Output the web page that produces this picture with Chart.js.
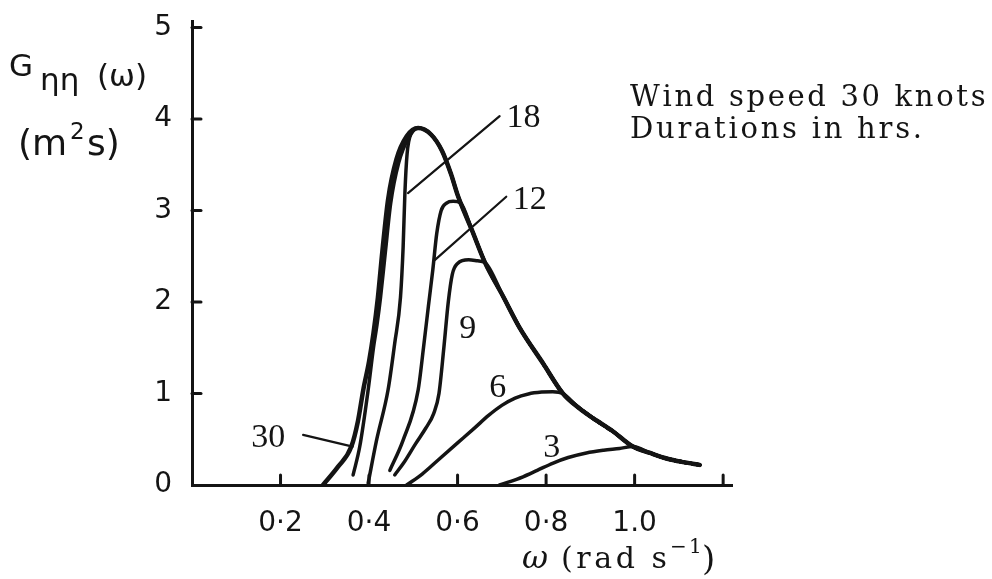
<!DOCTYPE html>
<html lang="en">
<head>
    <title>Wave spectra - wind speed 30 knots</title>
    <script src="https://cdn.jsdelivr.net/npm/chart.js"></script>
    <style>
        html, body { margin: 0; padding: 0; background: #fff; }
        #spectra { display: block; }
    </style>
</head>
<body>
    <canvas id="spectra" width="992" height="579"></canvas>

    <script>
        // axes
        const xTicks = [0, 0.2, 0.4, 0.6, 0.8, 1.0, 1.2];
        const xTickLabels = ['', '0·2', '0·4', '0·6', '0·8', '1.0', ''];
        const yTicks = [0, 1, 2, 3, 4, 5];
        const yTickLabels = ['0', '1', '2', '3', '4', '5'];

        // common high frequency side of the spectra (omega, G)
        const envW = [0.511, 0.540, 0.565, 0.585, 0.600, 0.607, 0.632, 0.662, 0.703, 0.740, 0.793, 0.838, 0.872, 0.906, 0.950, 0.996, 1.035, 1.072, 1.110, 1.147];
        const envG = [3.90, 3.83, 3.65, 3.40, 3.17, 3.08, 2.79, 2.43, 2.06, 1.72, 1.33, 1.00, 0.85, 0.73, 0.59, 0.42, 0.35, 0.29, 0.25, 0.22];

        // low frequency side of each duration curve (hrs)
        const w30 = [0.296, 0.330, 0.360, 0.375, 0.387, 0.400, 0.410, 0.420, 0.430, 0.443, 0.462, 0.485];
        const g30 = [0.00, 0.20, 0.42, 0.70, 1.04, 1.35, 1.66, 2.05, 2.55, 3.12, 3.56, 3.81];
        // unlabelled curve drawn next to the 30 hr one
        const wX = [0.364, 0.379, 0.398, 0.410, 0.418, 0.426, 0.437, 0.449, 0.467, 0.489];
        const gX = [0.11, 0.42, 1.04, 1.50, 1.75, 2.05, 2.55, 3.08, 3.52, 3.79];
        const w18 = [0.398, 0.417, 0.443, 0.458, 0.471, 0.477, 0.481, 0.486, 0.495];
        const g18 = [0.02, 0.49, 1.04, 1.55, 2.05, 2.60, 3.19, 3.62, 3.84];
        const w12 = [0.447, 0.477, 0.511, 0.523, 0.534, 0.544, 0.553, 0.563, 0.575, 0.590];
        const g12 = [0.16, 0.49, 1.04, 1.50, 1.95, 2.35, 2.75, 3.00, 3.08, 3.10];
        const w9 = [0.458, 0.478, 0.505, 0.528, 0.546, 0.558, 0.569, 0.579, 0.588, 0.600, 0.625, 0.645];
        const g9 = [0.11, 0.24, 0.45, 0.62, 0.78, 1.00, 1.50, 2.00, 2.30, 2.42, 2.46, 2.45];
        const w6 = [0.485, 0.520, 0.560, 0.600, 0.640, 0.670, 0.700, 0.730, 0.760, 0.790, 0.815];
        const g6 = [0.00, 0.12, 0.29, 0.46, 0.63, 0.76, 0.87, 0.95, 0.995, 1.015, 1.02];
        const w3 = [0.695, 0.748, 0.780, 0.816, 0.850, 0.891, 0.930, 0.966];
        const g3 = [0.00, 0.09, 0.16, 0.24, 0.30, 0.35, 0.38, 0.40];

        // curve labels and their leader lines
        const curveLabels = ['30', '18', '12', '9', '6', '3'];
        const labelW = [0.172, 0.749, 0.763, 0.623, 0.691, 0.813];
        const labelG = [0.42, 3.91, 3.02, 1.61, 0.96, 0.31];
        const leaderFromW = [0.251, 0.488, 0.549];
        const leaderFromG = [0.547, 3.19, 2.46];
        const leaderToW = [0.363, 0.695, 0.710];
        const leaderToG = [0.420, 4.03, 3.15];

        const ink = '#141414';

        function curve(w, g, joinAt) {
            const pts = w.map((v, i) => ({ x: v, y: g[i] }));
            envW.forEach((v, i) => {
                if (v >= joinAt) pts.push({ x: v, y: envG[i] });
            });
            return pts;
        }

        function series(label, data, width) {
            return {
                label: label,
                data: data,
                showLine: true,
                borderColor: ink,
                borderWidth: width,
                pointRadius: 0,
                cubicInterpolationMode: 'monotone',
                borderCapStyle: 'round',
                borderJoinStyle: 'round'
            };
        }

        // text drawn letter by letter so it fills a given width
        function spacedText(ctx, text, x, y, width) {
            const plain = ctx.measureText(text).width;
            const gap = text.length > 1 ? (width - plain) / (text.length - 1) : 0;
            for (const ch of text) {
                ctx.fillText(ch, x, y);
                x += ctx.measureText(ch).width + gap;
            }
        }

        const annotate = {
            id: 'annotate',
            afterDraw(chart) {
                const { ctx, chartArea: a, scales: { x, y } } = chart;
                ctx.save();
                ctx.strokeStyle = ink;
                ctx.fillStyle = ink;
                ctx.lineCap = 'round';

                // tick marks point into the plot
                ctx.lineWidth = 3;
                xTicks.slice(1).forEach(v => {
                    const px = x.getPixelForValue(v);
                    ctx.beginPath();
                    ctx.moveTo(px, a.bottom);
                    ctx.lineTo(px, a.bottom - 10);
                    ctx.stroke();
                });
                yTicks.slice(1).forEach(v => {
                    const py = y.getPixelForValue(v);
                    ctx.beginPath();
                    ctx.moveTo(a.left, py);
                    ctx.lineTo(a.left + 9, py);
                    ctx.stroke();
                });

                // leader lines
                ctx.lineWidth = 2.2;
                leaderFromW.forEach((v, i) => {
                    ctx.beginPath();
                    ctx.moveTo(x.getPixelForValue(v), y.getPixelForValue(leaderFromG[i]));
                    ctx.lineTo(x.getPixelForValue(leaderToW[i]), y.getPixelForValue(leaderToG[i]));
                    ctx.stroke();
                });

                // duration labels
                ctx.font = '34px "Liberation Serif"';
                ctx.textAlign = 'center';
                ctx.textBaseline = 'alphabetic';
                curveLabels.forEach((t, i) => {
                    ctx.fillText(t, x.getPixelForValue(labelW[i]), y.getPixelForValue(labelG[i]));
                });

                ctx.textAlign = 'left';

                // note at top right
                ctx.font = '29px "DejaVu Serif"';
                spacedText(ctx, 'Wind speed 30 knots', 630, 106, 355);
                spacedText(ctx, 'Durations in hrs.', 630, 138, 292);

                // y axis title
                ctx.font = '31px "DejaVu Sans"';
                ctx.fillText('G', 9, 76);
                ctx.fillText('ηη', 40, 90);
                ctx.fillText('(ω)', 97, 86);
                ctx.font = '36px "DejaVu Sans"';
                ctx.fillText('(m', 18, 155);
                ctx.font = '23px "DejaVu Sans"';
                ctx.fillText('2', 70, 139);
                ctx.font = '36px "DejaVu Sans"';
                ctx.fillText('s)', 87, 155);

                // x axis title
                ctx.font = 'italic 32px "DejaVu Serif"';
                ctx.fillText('ω', 522, 568);
                ctx.font = '30px "DejaVu Serif"';
                spacedText(ctx, '(rad s', 561, 568, 106);
                ctx.font = '20px "DejaVu Serif"';
                ctx.fillText('−', 670, 553);
                ctx.fillText('1', 689, 553);
                ctx.font = '34px "DejaVu Serif"';
                ctx.fillText(')', 702, 570);
                ctx.restore();
            }
        };

        const ctx = document.getElementById('spectra').getContext('2d');
        new Chart(ctx, {
            type: 'scatter',
            data: {
                datasets: [
                    series('30', curve(w30, g30, 0.511), 4.5),
                    series('', curve(wX, gX, 0.511), 3.5),
                    series('18', curve(w18, g18, 0.511), 3.5),
                    series('12', curve(w12, g12, 0.607), 3.5),
                    series('9', curve(w9, g9, 0.662), 3.5),
                    series('6', curve(w6, g6, 0.838), 3.5),
                    series('3', curve(w3, g3, 0.996), 3.5)
                ]
            },
            options: {
                responsive: false,
                animation: false,
                layout: {
                    padding: { left: 0, right: 260, top: 21, bottom: 0 }
                },
                plugins: {
                    legend: { display: false },
                    tooltip: { enabled: false }
                },
                scales: {
                    x: {
                        type: 'linear',
                        min: 0,
                        max: 1.22,
                        afterBuildTicks: scale => { scale.ticks = xTicks.map(v => ({ value: v })); },
                        afterFit: scale => { scale.height = 94; },
                        grid: { display: false },
                        border: { display: true, color: ink, width: 3 },
                        ticks: {
                            color: ink,
                            padding: 14,
                            maxRotation: 0,
                            autoSkip: false,
                            font: { family: 'DejaVu Sans', size: 28 },
                            callback: (value, index) => xTickLabels[index]
                        }
                    },
                    y: {
                        min: 0,
                        max: 5.07,
                        afterBuildTicks: scale => { scale.ticks = yTicks.map(v => ({ value: v })); },
                        afterFit: scale => { scale.width = 192; },
                        grid: { display: false },
                        border: { display: true, color: ink, width: 3 },
                        ticks: {
                            color: ink,
                            padding: 12,
                            autoSkip: false,
                            font: { family: 'DejaVu Sans', size: 28, lineHeight: 0.6 },
                            callback: (value, index) => yTickLabels[index]
                        }
                    }
                }
            },
            plugins: [annotate]
        });
    </script>
</body>
</html>
